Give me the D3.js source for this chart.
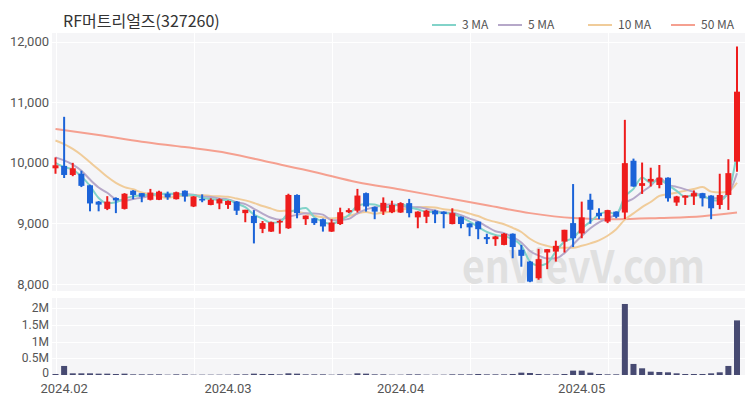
<!DOCTYPE html>
<html>
<head>
<meta charset="utf-8">
<script src="https://cdn.jsdelivr.net/npm/d3@7"></script>
<style>
  html, body { margin: 0; padding: 0; background: #ffffff; }
  svg { display: block; }
  text { font-family: "Noto Sans CJK KR", "Noto Sans", sans-serif; }
  .ax text { font-family: Roboto, "Noto Sans", sans-serif; }
</style>
</head>
<body>
<svg id="chart" width="750" height="400"></svg>
<script>
// ---------------- DATA ----------------
const title = "RF머트리얼즈(327260)";
const dates = [
  "2024-01-31",
  "2024-02-01","2024-02-02","2024-02-05","2024-02-06","2024-02-07","2024-02-08","2024-02-13","2024-02-14","2024-02-15","2024-02-16",
  "2024-02-19","2024-02-20","2024-02-21","2024-02-22","2024-02-23","2024-02-26","2024-02-27","2024-02-28","2024-02-29",
  "2024-03-04","2024-03-05","2024-03-06","2024-03-07","2024-03-08","2024-03-11","2024-03-12","2024-03-13","2024-03-14","2024-03-15",
  "2024-03-18","2024-03-19","2024-03-20","2024-03-21","2024-03-22","2024-03-25","2024-03-26","2024-03-27","2024-03-28","2024-03-29",
  "2024-04-01","2024-04-02","2024-04-03","2024-04-04","2024-04-05","2024-04-08","2024-04-09","2024-04-11","2024-04-12","2024-04-15",
  "2024-04-16","2024-04-17","2024-04-18","2024-04-19","2024-04-22","2024-04-23","2024-04-24","2024-04-25","2024-04-26","2024-04-29","2024-04-30",
  "2024-05-02","2024-05-03","2024-05-07","2024-05-08","2024-05-09","2024-05-10","2024-05-13","2024-05-14","2024-05-16","2024-05-17",
  "2024-05-20","2024-05-21","2024-05-22","2024-05-23","2024-05-24","2024-05-27","2024-05-28","2024-05-29","2024-05-30"
];
const opens = [
  9910,9950,9800,9820,9630,9360,9240,9420,9240,9540,
  9500,9390,9390,9490,9400,9540,9280,9405,9305,9330,
  9305,9360,9170,9125,8910,8865,9020,8920,9470,9070,
  9085,9070,8865,8990,9185,9210,9500,9270,9195,9185,
  9180,9335,9100,9110,9210,9195,8990,9110,9000,9030,
  8775,8740,8645,8830,8565,8370,8095,8520,8535,8700,
  9005,8835,9390,9175,9030,9195,9180,10035,9620,9690,
  9635,9755,9345,9425,9445,9500,9460,9305,9470,10020
];
const highs = [
  10090,10760,10000,9870,9640,9370,9450,9430,9500,9550,
  9500,9570,9540,9525,9525,9545,9450,9480,9415,9415,
  9380,9370,9225,9220,9040,9030,9060,9490,9480,9130,
  9090,9080,9070,9260,9250,9570,9510,9280,9430,9375,
  9350,9405,9200,9225,9225,9200,9250,9115,9005,9035,
  8830,8795,8840,8835,8645,8380,8580,8575,8715,8895,
  9650,9360,9490,9250,9225,9200,10710,10070,10005,9920,
  9965,9760,9455,9465,9545,9505,9465,9820,10060,11920
];
const lows = [
  9820,9750,9780,9600,9200,9200,9220,9170,9230,9400,
  9350,9380,9385,9390,9395,9360,9270,9350,9300,9235,
  9240,9140,9020,8670,8840,8860,8830,8910,9085,8975,
  8975,8865,8860,8975,9170,9180,9195,9070,9140,9170,
  9175,9100,8920,9005,9005,8920,8985,8920,8790,8740,
  8660,8630,8640,8425,8285,8030,8070,8245,8370,8520,
  8610,8755,8995,9070,9005,9085,9070,9605,9487,9610,
  9580,9360,9290,9305,9305,9280,9070,9235,9223,9855
];
const closes = [
  9960,9800,9910,9620,9330,9310,9360,9380,9490,9470,
  9440,9510,9525,9430,9515,9445,9445,9378,9390,9400,
  9370,9210,9225,9005,9005,9020,9040,9470,9170,9130,
  9005,8950,9015,9185,9220,9460,9280,9195,9340,9305,
  9335,9170,9195,9210,9150,9155,9170,8990,8935,8905,
  8740,8785,8830,8610,8465,8040,8410,8575,8630,8895,
  8755,9100,9225,9120,9220,9110,9995,9610,9665,9735,
  9755,9415,9445,9460,9500,9415,9250,9470,9830,11175
];
const volumes = [
  30000,270000,50000,50000,50000,40000,40000,30000,40000,20000,
  20000,20000,20000,10000,20000,20000,10000,10000,10000,10000,
  10000,20000,20000,40000,30000,30000,20000,50000,40000,20000,
  20000,20000,10000,20000,10000,50000,40000,20000,20000,10000,
  10000,20000,20000,10000,10000,10000,20000,20000,20000,30000,
  20000,20000,20000,30000,70000,60000,30000,20000,20000,30000,
  130000,130000,70000,30000,20000,20000,2120000,330000,200000,100000,
  90000,80000,50000,30000,30000,30000,50000,80000,270000,1630000
];
// Moving-average values on the first days (history before the window)
const ma3Lead = [10000, 9930];
const ma5Lead = [10090, 10040, 9970, 9870];
const ma10Lead = [10370, 10310, 10230, 10130, 10010, 9890, 9770, 9670, 9600];
// 50-day moving average at these candle indices
const ma50Idx  = [0, 5, 10, 15, 20, 25, 30, 35, 40, 45, 50, 55, 60, 65, 70, 75, 79];
const ma50Vals = [10560, 10460, 10350, 10260, 10160, 10005, 9850, 9680, 9560, 9430, 9300, 9170, 9090, 9070, 9090, 9120, 9180];

const priceTicks = [8000, 9000, 10000, 11000, 12000];
const volTicks = [0, 500000, 1000000, 1500000, 2000000];
const volTickLabels = ["0", "0.5M", "1M", "1.5M", "2M"];
const monthTickIdx = [1, 20, 40, 61];
const monthTickLabels = ["2024.02", "2024.03", "2024.04", "2024.05"];
const gridIdx = [0, 16, 32, 48, 64];
const legendNames = ["3 MA", "5 MA", "10 MA", "50 MA"];
const maColors = ["#82d3c9", "#b6a8c9", "#f0cc9a", "#f5a090"];

// ---------------- DRAWING ----------------
const svg = d3.select("#chart");
const upColor = "#ee1c1c", downColor = "#1b63d8";
const plotL = 52, plotR = 745, plotT = 33, plotB = 291;
const volT = 298, volB = 376;

const x = d3.scaleLinear().domain([0, dates.length - 1]).range([55.5, 737]);
const y = d3.scaleLinear().domain([8000, 12000]).range([284, 41.7]);
const yv = d3.scaleLinear().domain([0, 2000000]).range([375, 308]);

// moving averages
function sma(n, lead) {
  return closes.map((c, i) => {
    if (i < n - 1) return lead[i];
    return d3.mean(closes.slice(i - n + 1, i + 1));
  });
}
const ma3 = sma(3, ma3Lead), ma5 = sma(5, ma5Lead), ma10 = sma(10, ma10Lead);

// backgrounds
svg.append("rect").attr("x", plotL).attr("y", plotT).attr("width", plotR - plotL).attr("height", plotB - plotT).attr("fill", "#f5f5f7");
svg.append("rect").attr("x", plotL).attr("y", volT).attr("width", plotR - plotL).attr("height", volB - volT).attr("fill", "#f5f5f7");

// grid
const grid = svg.append("g").attr("stroke", "#ffffff").attr("stroke-width", 1);
priceTicks.forEach(t => grid.append("line").attr("x1", plotL).attr("x2", plotR).attr("y1", Math.round(y(t)) + 0.5).attr("y2", Math.round(y(t)) + 0.5));
volTicks.forEach(t => grid.append("line").attr("x1", plotL).attr("x2", plotR).attr("y1", Math.round(yv(t)) + 0.5).attr("y2", Math.round(yv(t)) + 0.5));
gridIdx.forEach(i => {
  const gx = Math.round(x(i)) + 0.5;
  grid.append("line").attr("x1", gx).attr("x2", gx).attr("y1", plotT).attr("y2", plotB);
  grid.append("line").attr("x1", gx).attr("x2", gx).attr("y1", volT).attr("y2", volB);
});

// watermark
svg.append("text").attr("x", 462).attr("y", 283).attr("font-family", "'DejaVu Sans', sans-serif")
  .attr("font-weight", "bold").attr("font-size", 44).attr("fill", "#e0e0e0")
  .attr("textLength", 243).attr("lengthAdjust", "spacingAndGlyphs").text("enVievV.com");

// clip
svg.append("clipPath").attr("id", "clipMain").append("rect").attr("x", plotL).attr("y", plotT).attr("width", plotR - plotL).attr("height", plotB - plotT);
const main = svg.append("g").attr("clip-path", "url(#clipMain)");

// MA lines
const line = d3.line().x((d, i) => x(i)).y(d => y(d)).curve(d3.curveMonotoneX);
const line50 = d3.line().x(d => x(d[0])).y(d => y(d[1])).curve(d3.curveMonotoneX);
main.append("path").datum(ma50Idx.map((k, j) => [k, ma50Vals[j]])).attr("d", line50)
  .attr("fill", "none").attr("stroke", maColors[3]).attr("stroke-width", 2);
main.append("path").datum(ma10).attr("d", line).attr("fill", "none").attr("stroke", maColors[2]).attr("stroke-width", 2);
main.append("path").datum(ma5).attr("d", line).attr("fill", "none").attr("stroke", maColors[1]).attr("stroke-width", 2);
main.append("path").datum(ma3).attr("d", line).attr("fill", "none").attr("stroke", maColors[0]).attr("stroke-width", 2);

// candles
const bw = 6;
const candles = main.selectAll("g.c").data(dates.map((d, i) => i)).join("g");
candles.append("line")
  .attr("x1", i => x(i)).attr("x2", i => x(i))
  .attr("y1", i => y(highs[i])).attr("y2", i => y(lows[i]))
  .attr("stroke", i => closes[i] >= opens[i] ? upColor : downColor).attr("stroke-width", 2);
candles.append("rect")
  .attr("x", i => x(i) - bw / 2).attr("width", bw)
  .attr("y", i => y(Math.max(opens[i], closes[i])))
  .attr("height", i => Math.max(1.5, Math.abs(y(opens[i]) - y(closes[i]))))
  .attr("fill", i => closes[i] >= opens[i] ? upColor : downColor);

// volume
svg.append("g").selectAll("rect").data(volumes).join("rect")
  .attr("x", (d, i) => x(i) - bw / 2).attr("width", bw)
  .attr("y", d => yv(d)).attr("height", d => yv(0) - yv(d))
  .attr("fill", "#474a72");

// axes labels
const axisG = svg.append("g").attr("class", "ax").attr("font-size", 12).attr("fill", "#555");
priceTicks.forEach(t => axisG.append("text").attr("x", 49).attr("y", y(t)).attr("dy", "0.35em").attr("text-anchor", "end").attr("font-size", 13).text(d3.format(",")(t)));
volTicks.forEach((t, j) => axisG.append("text").attr("x", 49).attr("y", t === 0 ? yv(t) - 2 : yv(t)).attr("dy", "0.35em").attr("text-anchor", "end").text(volTickLabels[j]));
monthTickIdx.forEach((k, j) => axisG.append("text").attr("x", x(k)).attr("y", 388).attr("dy", "0.35em").attr("text-anchor", "middle").attr("font-size", 13).text(monthTickLabels[j]));

// title
svg.append("text").attr("x", 63).attr("y", 27).attr("font-size", 16).attr("fill", "#333").text(title);

// legend
const legX = [432, 498, 588, 671];
const lg = svg.append("g");
legendNames.forEach((n, j) => {
  lg.append("line").attr("x1", legX[j]).attr("x2", legX[j] + 24).attr("y1", 25).attr("y2", 25).attr("stroke", maColors[j]).attr("stroke-width", 2);
  lg.append("text").attr("x", legX[j] + 30).attr("y", 25).attr("dy", "0.35em").attr("font-size", 12).attr("fill", "#555").text(n);
});
</script>
</body>
</html>
